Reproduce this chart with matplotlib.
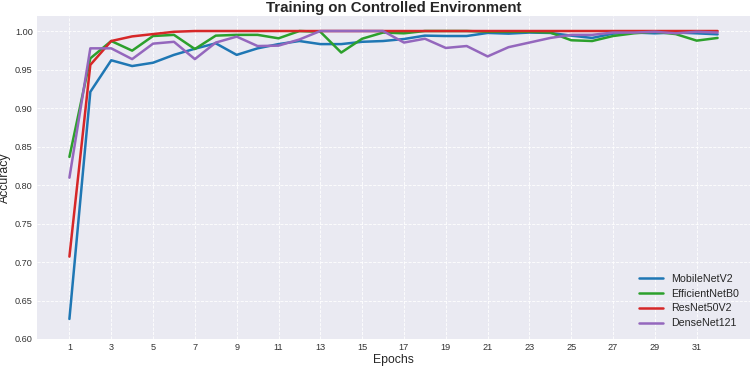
import matplotlib
matplotlib.use("Agg")
import matplotlib.pyplot as plt

plt.style.use("seaborn-v0_8-darkgrid")
plt.rcParams['font.family'] = ['Liberation Sans', 'DejaVu Sans']

epochs = list(range(1, 33))
mobilenet = [0.626, 0.921, 0.962, 0.9545, 0.9588, 0.969, 0.977, 0.984, 0.969, 0.9775,
             0.983, 0.987, 0.983, 0.983, 0.986, 0.987, 0.9896, 0.994, 0.9935, 0.9935,
             0.9975, 0.9966, 0.998, 0.9975, 0.994, 0.991, 0.9966, 0.998, 0.997, 0.998,
             0.997, 0.9957]
efficientnet = [0.8365, 0.9645, 0.987, 0.9745, 0.9935, 0.995, 0.9766, 0.994, 0.995, 0.995,
                0.9905, 1.0, 0.999, 0.972, 0.990, 0.998, 0.997, 1.0, 1.0, 1.0,
                0.999, 0.999, 0.999, 0.998, 0.988, 0.987, 0.9935, 0.997, 0.999, 0.996,
                0.9875, 0.991]
resnet = [0.707, 0.956, 0.987, 0.993, 0.996, 0.999, 1.0, 1.0, 1.0, 1.0,
          1.0, 1.0, 1.0, 1.0, 1.0, 1.0, 1.0, 1.0, 1.0, 1.0,
          1.0, 1.0, 1.0, 1.0, 1.0, 1.0, 1.0, 1.0, 1.0, 1.0,
          1.0, 1.0]
densenet = [0.8095, 0.9775, 0.9775, 0.9635, 0.9836, 0.986, 0.9635, 0.985, 0.9927, 0.9805,
            0.981, 0.989, 1.0, 1.0, 1.0, 1.0, 0.985, 0.990, 0.978, 0.9805,
            0.967, 0.979, 0.985, 0.991, 0.995, 0.995, 0.998, 0.998, 0.999, 0.997,
            0.999, 0.998]

series = [("MobileNetV2", mobilenet, "#1f77b4"),
          ("EfficientNetB0", efficientnet, "#2ca02c"),
          ("ResNet50V2", resnet, "#d62728"),
          ("DenseNet121", densenet, "#9467bd")]

yticks = [0.60, 0.65, 0.70, 0.75, 0.80, 0.85, 0.90, 0.95, 1.00]

fig = plt.figure(figsize=(7.52, 3.67), dpi=100)
ax = fig.add_axes([37/752, 1-339/367, 713/752, 323/367])
for name, vals, col in series:
    ax.plot(epochs, vals, label=name, color=col, linewidth=1.8)

ax.set_ylim(0.60, 1.0195)
ax.set_xticks(list(range(1, 33, 2)))
ax.set_yticks(yticks)
ax.set_yticklabels([f"{v:.2f}" for v in yticks])
ax.tick_params(labelsize=6.6, colors="#333333", pad=3)
ax.grid(True, color="white", linestyle="--", linewidth=0.6)
ax.set_xlabel("Epochs", fontsize=8.8, labelpad=1)
ax.set_ylabel("Accuracy", fontsize=8.8, labelpad=3)
ax.set_title("Training on Controlled Environment", fontsize=10.8, fontweight="bold", pad=3)
ax.legend(loc="lower right", fontsize=7.7, frameon=False, labelspacing=0.45,
          handlelength=2.2, borderaxespad=0.6)

fig.savefig("out.png", dpi=100)
